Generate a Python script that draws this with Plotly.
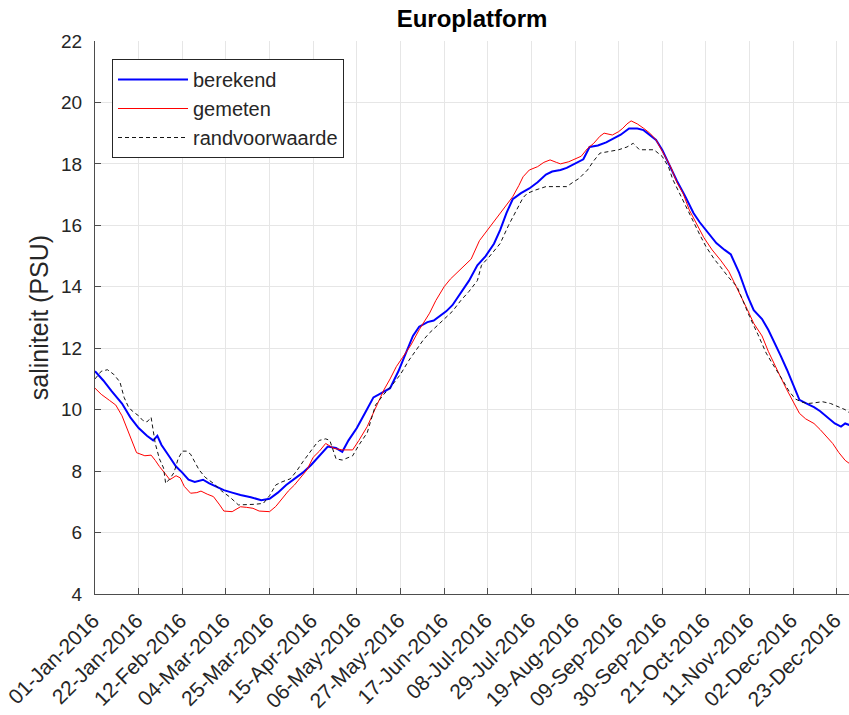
import pandas as pd
import plotly.graph_objects as go

# ---------------- data (day offsets from 01-Jan-2016, salinity in PSU) ----------------
berekend_day = [0, 4, 8, 13, 17, 21, 25, 28, 30, 32, 36, 39, 42, 45, 48, 52, 55, 58, 62, 66, 70, 75, 80, 84,
                88, 92, 96, 100, 104, 108, 112, 116, 119, 122, 126, 130, 134, 138, 142, 146, 150, 153, 156,
                160, 163, 166, 169, 172, 176, 180, 184, 188, 192, 195, 198, 201, 205, 209, 213, 217, 220, 224,
                227, 231, 235, 238, 242, 246, 249, 253, 257, 261, 264, 267, 270, 273, 276, 280, 284, 288, 291,
                294, 299, 303, 306, 310, 314, 317, 321, 324, 327, 330, 333, 336, 339, 343, 346, 349, 352, 356,
                359, 361, 363]
berekend_val = [11.25, 10.95, 10.6, 10.2, 9.75, 9.4, 9.15, 9.0, 9.15, 8.85, 8.45, 8.15, 7.95, 7.72, 7.65, 7.72,
                7.6, 7.5, 7.38, 7.3, 7.22, 7.15, 7.05, 7.1, 7.3, 7.55, 7.75, 7.95, 8.2, 8.5, 8.8, 8.75, 8.63, 9.0,
                9.4, 9.9, 10.4, 10.55, 10.7, 11.25, 11.9, 12.4, 12.7, 12.85, 12.9, 13.05, 13.2, 13.4, 13.8, 14.2,
                14.7, 15.0, 15.4, 15.85, 16.4, 16.85, 17.05, 17.2, 17.4, 17.65, 17.75, 17.8, 17.87, 18.0, 18.15,
                18.55, 18.6, 18.7, 18.8, 18.95, 19.15, 19.15, 19.1, 18.95, 18.78, 18.45, 18.0, 17.45, 16.95, 16.4,
                16.1, 15.85, 15.42, 15.2, 15.05, 14.45, 13.7, 13.24, 12.95, 12.6, 12.2, 11.75, 11.3, 10.8, 10.32,
                10.18, 10.08, 9.95, 9.77, 9.55, 9.45, 9.55, 9.5]

gemeten_day = [0, 3, 7, 10, 13, 16, 20, 24, 27, 29, 31, 34, 36, 39, 41, 43, 46, 49, 51, 54, 57, 60, 62, 66, 70,
               73, 76, 79, 84, 87, 90, 93, 96, 99, 102, 105, 108, 111, 115, 119, 124, 127, 131, 135, 139, 142,
               145, 148, 152, 156, 161, 164, 168, 171, 174, 177, 181, 185, 190, 195, 198, 201, 204, 206, 209,
               213, 216, 219, 222, 224, 228, 231, 234, 237, 240, 243, 245, 249, 252, 254, 256, 258, 261, 264,
               267, 270, 273, 277, 280, 283, 286, 289, 293, 297, 301, 305, 308, 311, 314, 317, 321, 324, 327,
               330, 333, 336, 339, 342, 346, 349, 352, 355, 358, 361, 363]
gemeten_val = [10.7, 10.5, 10.3, 10.15, 9.8, 9.3, 8.6, 8.5, 8.52, 8.35, 8.15, 7.9, 7.72, 7.85, 7.78, 7.5, 7.28,
               7.3, 7.35, 7.25, 7.17, 6.9, 6.7, 6.68, 6.84, 6.82, 6.79, 6.7, 6.68, 6.85, 7.1, 7.35, 7.55, 7.8,
               8.04, 8.45, 8.65, 8.9, 8.74, 8.69, 8.69, 9.0, 9.45, 10.05, 10.64, 11.0, 11.4, 11.7, 12.1, 12.6,
               13.14, 13.55, 14.0, 14.25, 14.44, 14.65, 14.9, 15.5, 15.95, 16.39, 16.7, 16.93, 17.3, 17.58, 17.8,
               17.91, 18.05, 18.13, 18.05, 18.0, 18.07, 18.15, 18.25, 18.5, 18.67, 18.9, 19.0, 18.94, 19.05,
               19.16, 19.3, 19.4, 19.3, 19.16, 19.0, 18.78, 18.4, 17.91, 17.4, 17.04, 16.5, 16.1, 15.6, 15.2,
               14.87, 14.5, 14.1, 13.7, 13.25, 12.81, 12.4, 11.9, 11.45, 11.05, 10.64, 10.25, 9.88, 9.7, 9.55,
               9.35, 9.12, 8.9, 8.6, 8.35, 8.25]

rand_day = [0, 3, 6, 9, 12, 14, 16, 18, 21, 23, 25, 27, 29, 31, 33, 34, 36, 38, 40, 42, 44, 46, 48, 50, 53, 57,
            61, 65, 69, 73, 77, 81, 84, 87, 90, 94, 97, 100, 103, 106, 108, 111, 113, 116, 119, 122, 124, 127,
            131, 135, 139, 143, 147, 151, 155, 158, 161, 164, 168, 172, 176, 180, 184, 186, 190, 195, 199, 203,
            206, 208, 212, 217, 222, 227, 230, 233, 237, 240, 243, 247, 252, 256, 259, 262, 265, 269, 273, 276,
            278, 283, 288, 291, 294, 298, 301, 305, 309, 312, 315, 319, 323, 326, 328, 331, 334, 337, 340, 343,
            346, 350, 354, 358, 361, 363]
rand_val = [11.0, 11.25, 11.3, 11.15, 10.9, 10.4, 10.1, 9.95, 9.8, 9.65, 9.6, 9.75, 8.9, 8.4, 8.1, 7.6, 7.75,
            7.95, 8.4, 8.65, 8.65, 8.55, 8.3, 8.05, 7.8, 7.6, 7.35, 7.15, 6.9, 6.9, 6.92, 6.95, 7.2, 7.55, 7.65,
            7.75, 8.0, 8.3, 8.58, 8.85, 9.0, 9.05, 9.0, 8.4, 8.36, 8.45, 8.5, 8.85, 9.25, 10.15, 10.5, 10.8,
            11.15, 11.6, 12.0, 12.27, 12.5, 12.7, 12.95, 13.2, 13.55, 13.85, 14.2, 14.7, 15.0, 15.41, 16.0, 16.5,
            16.9, 17.04, 17.15, 17.26, 17.25, 17.26, 17.4, 17.53, 17.8, 18.1, 18.35, 18.4, 18.46, 18.55, 18.67,
            18.46, 18.46, 18.46, 18.24, 17.9, 17.5, 16.8, 16.07, 15.7, 15.31, 14.9, 14.65, 14.3, 14.0, 13.5,
            13.03, 12.45, 11.84, 11.5, 11.29, 10.95, 10.6, 10.35, 10.25, 10.2, 10.22, 10.26, 10.2, 10.1, 10.0, 9.9]

tick_labels = ["01-Jan-2016", "22-Jan-2016", "12-Feb-2016", "04-Mar-2016", "25-Mar-2016", "15-Apr-2016",
               "06-May-2016", "27-May-2016", "17-Jun-2016", "08-Jul-2016", "29-Jul-2016", "19-Aug-2016",
               "09-Sep-2016", "30-Sep-2016", "21-Oct-2016", "11-Nov-2016", "02-Dec-2016", "23-Dec-2016"]
y_ticks = [4, 6, 8, 10, 12, 14, 16, 18, 20, 22]

# ---------------- figure ----------------
base = pd.Timestamp("2016-01-01")
to_dates = lambda days: [base + pd.Timedelta(days=d) for d in days]
tick_vals = [pd.to_datetime(t, format="%d-%b-%Y") for t in tick_labels]

FONT = "Liberation Sans, Arial, Helvetica, sans-serif"
TXT = "#262626"
AX = "#4d4d4d"
W, H = 849, 715
L, T, B, R = 95, 41, 121, 0

fig = go.Figure()
fig.add_trace(go.Scatter(x=to_dates(berekend_day), y=berekend_val, mode="lines", name="berekend",
                         legendgroup="a", line=dict(color="rgb(0,0,255)", width=2)))
fig.add_trace(go.Scatter(x=to_dates(gemeten_day), y=gemeten_val, mode="lines", name="gemeten",
                         legendgroup="b", line=dict(color="rgb(255,0,0)", width=1)))
fig.add_trace(go.Scatter(x=to_dates(rand_day), y=rand_val, mode="lines", name="randvoorwaarde",
                         legendgroup="c", line=dict(color="rgb(20,20,20)", width=1, dash="4px,3px")))

# plot area spans to the right edge of the picture (axis is cut off there)
x_end = base + pd.Timedelta(days=(W - L) / 2.078)

fig.update_layout(
    width=W, height=H,
    margin=dict(l=L, r=R, t=T, b=B, autoexpand=False),
    paper_bgcolor="white", plot_bgcolor="white",
    font=dict(family=FONT, size=19, color=TXT),
    title=dict(text="<b>Europlatform</b>", x=0.5, xref="paper", xanchor="center",
               y=1 - 19 / H, yref="container", yanchor="middle",
               font=dict(family=FONT, size=24, color="black")),
    showlegend=True,
    legend=dict(x=(112 - L) / (W - L), y=1 - (59 - T) / (H - T - B), xanchor="left", yanchor="top",
                bgcolor="white", bordercolor=TXT, borderwidth=1,
                font=dict(family=FONT, size=20, color=TXT),
                tracegroupgap=0, itemwidth=70),
    xaxis=dict(range=[base, x_end], tickvals=tick_vals, ticktext=tick_labels, tickangle=-45,
               automargin=False, ticklabeloverflow="allow",
               showgrid=True, gridcolor="#e6e6e6", gridwidth=1,
               showline=True, linecolor=AX, linewidth=1,
               ticks="inside", ticklen=6, tickcolor=AX,
               ticklabelstandoff=5, ticklabelshift=-2,
               tickfont=dict(family=FONT, size=21, color=TXT), zeroline=False),
    yaxis=dict(range=[4, 22], tickvals=y_ticks, automargin=False,
               showgrid=True, gridcolor="#e6e6e6", gridwidth=1,
               showline=True, linecolor=AX, linewidth=1,
               ticks="inside", ticklen=6, tickcolor=AX,
               tickfont=dict(family=FONT, size=19, color=TXT), zeroline=False,
               ticklabelstandoff=8,
               title=dict(text="saliniteit (PSU)", font=dict(family=FONT, size=25, color=TXT),
                          standoff=5)),
)

fig.write_html("out.html", config={"displayModeBar": False},
               post_script="document.body.style.margin='0';document.body.style.overflow='hidden';")
